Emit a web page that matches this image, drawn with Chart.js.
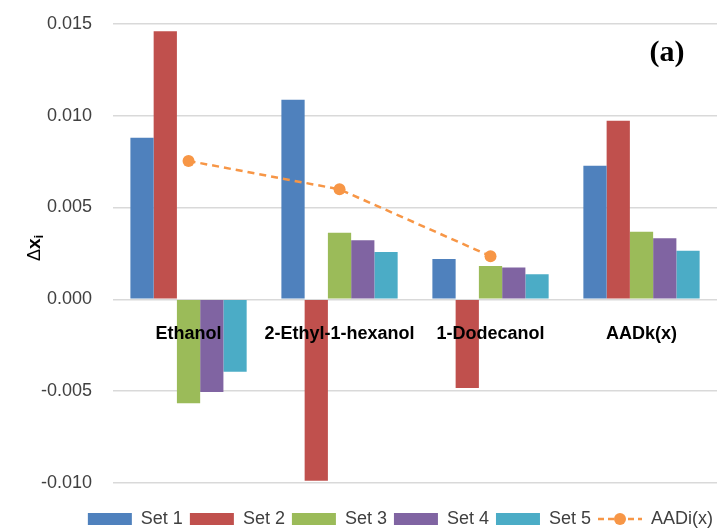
<!DOCTYPE html>
<html>
<head>
<meta charset="utf-8">
<script src="https://cdn.jsdelivr.net/npm/chart.js@4.4.1/dist/chart.umd.min.js"></script>
<style>
  html, body { margin: 0; padding: 0; background: #ffffff; }
  #wrap { width: 723px; height: 529px; position: relative; }
</style>
</head>
<body>
<div id="wrap"><canvas id="c"></canvas></div>
<script>
const categories = ['Ethanol', '2-Ethyl-1-hexanol', '1-Dodecanol', 'AADk(x)'];
const set1 = [0.0088, 0.01087, 0.00219, 0.00728];
const set2 = [0.0146, -0.00989, -0.00483, 0.00973];
const set3 = [-0.00567, 0.00362, 0.00182, 0.00368];
const set4 = [-0.00505, 0.00322, 0.00173, 0.00332];
const set5 = [-0.00395, 0.00258, 0.00137, 0.00264];
const aadi = [0.00754, 0.00599, 0.00235, null];
const seriesNames = ['Set 1', 'Set 2', 'Set 3', 'Set 4', 'Set 5', 'AADi(x)'];
const yTicks = [-0.010, -0.005, 0.000, 0.005, 0.010, 0.015];

const colors = ['#4F81BD', '#C0504D', '#9BBB59', '#8064A2', '#4BACC6', '#F79646'];

function lineLegendIcon() {
  const cv = document.createElement('canvas');
  cv.width = 44; cv.height = 14;
  const g = cv.getContext('2d');
  g.strokeStyle = colors[5];
  g.lineWidth = 2.5;
  g.setLineDash([6, 4]);
  g.beginPath(); g.moveTo(0, 7); g.lineTo(44, 7); g.stroke();
  g.setLineDash([]);
  g.fillStyle = colors[5];
  g.beginPath(); g.arc(22, 7, 6, 0, Math.PI * 2); g.fill();
  return cv;
}
const lineIcon = lineLegendIcon();

const extras = {
  id: 'extras',
  afterDraw(chart) {
    const ctx = chart.ctx;
    ctx.save();
    ctx.fillStyle = '#000';
    ctx.font = 'bold 30px "Liberation Serif"';
    ctx.textAlign = 'center';
    ctx.textBaseline = 'middle';
    ctx.fillText('(a)', 667, 53);
    ctx.translate(35, 248);
    ctx.rotate(-Math.PI / 2);
    ctx.textBaseline = 'middle';
    ctx.textAlign = 'left';
    ctx.font = '18px "Liberation Sans"';
    const w1 = ctx.measureText('Δ').width;
    ctx.font = 'bold 19px "Liberation Sans"';
    const w2 = ctx.measureText('x').width;
    ctx.font = 'bold 12px "Liberation Sans"';
    const w3 = ctx.measureText('i').width;
    let x = -(w1 + w2 + w3) / 2;
    ctx.fillStyle = '#000';
    ctx.font = '18px "Liberation Sans"';
    ctx.fillText('Δ', x, 0); x += w1;
    ctx.font = 'bold 19px "Liberation Sans"';
    ctx.fillText('x', x, 0); x += w2;
    ctx.font = 'bold 12px "Liberation Sans"';
    ctx.fillText('i', x, 5);
    ctx.restore();
  }
};

const barSets = [set1, set2, set3, set4, set5];
const datasets = barSets.map((d, i) => ({
  type: 'bar',
  label: seriesNames[i],
  data: d,
  backgroundColor: colors[i],
  borderWidth: 0,
  categoryPercentage: 0.77,
  barPercentage: 1.0,
  order: 2
}));
datasets.push({
  type: 'line',
  label: seriesNames[5],
  data: aadi,
  borderColor: colors[5],
  backgroundColor: colors[5],
  borderWidth: 2.5,
  borderDash: [7, 5],
  pointRadius: 6,
  pointBackgroundColor: colors[5],
  pointBorderWidth: 0,
  spanGaps: false,
  order: 1
});

new Chart(document.getElementById('c'), {
  data: { labels: categories, datasets },
  options: {
    responsive: true,
    maintainAspectRatio: false,
    animation: false,
    layout: { padding: { left: 41, right: 3, top: 24, bottom: -9 } },
    plugins: {
      tooltip: { enabled: false },
      legend: {
        position: 'bottom',
        fullSize: true,
        align: 'end',
        title: { display: true, text: '', font: { size: 1 }, padding: { top: 0, bottom: 19 } },
        labels: {
          boxWidth: 44,
          boxHeight: 12,
          padding: 7,
          color: '#404040',
          font: { family: '"Liberation Sans"', size: 18 },
          usePointStyle: true,
          pointStyleWidth: 44,
          sort: (a, b) => a.datasetIndex - b.datasetIndex,
          generateLabels(chart) {
            const items = Chart.defaults.plugins.legend.labels.generateLabels(chart);
            items.forEach((it) => {
              const i = it.datasetIndex;
              it.lineWidth = 0;
              it.strokeStyle = 'rgba(0,0,0,0)';
              it.lineDash = [];
              it.pointStyle = (i === 5) ? lineIcon : 'rect';
              it.fillStyle = colors[i];
            });
            return items;
          }
        }
      }
    },
    scales: {
      x: {
        position: { y: 0 },
        z: 1,
        grid: { display: false, drawTicks: false },
        border: { display: false },
        ticks: {
          z: 1,
          color: '#000',
          font: { family: '"Liberation Sans"', size: 18, weight: 'bold' },
          padding: 24,
          maxRotation: 0,
          autoSkip: false
        }
      },
      y: {
        min: -0.010,
        max: 0.015,
        afterBuildTicks(scale) { scale.ticks = yTicks.map(v => ({ value: v })); },
        grid: { color: '#d9d9d9', lineWidth: 1.5, drawTicks: true, tickLength: 21, tickColor: 'rgba(0,0,0,0)' },
        border: { display: false },
        ticks: {
          color: '#404040',
          padding: 0,
          font: { family: '"Liberation Sans"', size: 18 },
          callback: (v) => v.toFixed(3)
        }
      }
    }
  },
  plugins: [extras]
});
</script>
</body>
</html>
